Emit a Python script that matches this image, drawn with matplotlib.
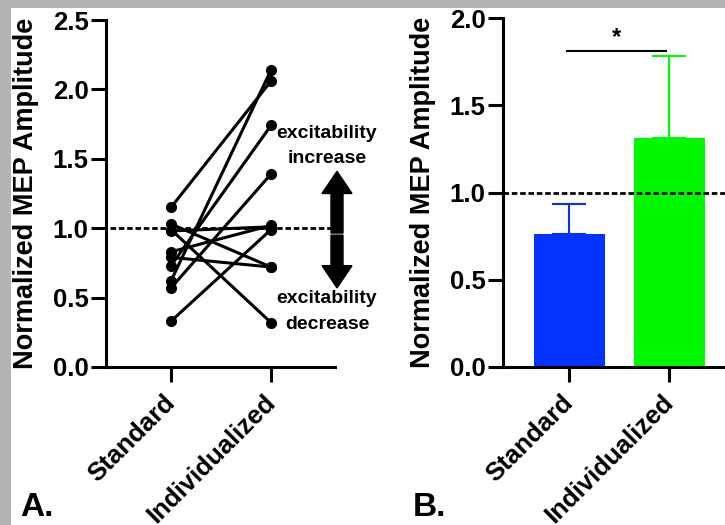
import numpy as np
import matplotlib.pyplot as plt
import matplotlib.transforms as mtransforms
from matplotlib.patches import Rectangle, FancyArrow

plt.rcParams['font.family'] = ['Liberation Sans', 'DejaVu Sans']
plt.rcParams['font.weight'] = 'bold'

groups = ["Standard", "Individualized"]

# paired MEP amplitudes, one entry per subject
standard_vals = [1.15, 1.03, 0.99, 0.98, 0.83, 0.79, 0.73, 0.62, 0.57, 0.33]
indiv_vals = [2.06, 0.72, 0.32, 1.01, 1.02, 0.72, 1.74, 2.14, 1.39, 0.99]

# group means and upper error
bar_means = [0.76, 1.31]
bar_err = [0.175, 0.47]
bar_colors = ["#0433ff", "#00f900"]

ylabel = "Normalized MEP Amplitude"

W, H = 725, 525
fig = plt.figure(figsize=(W / 100, H / 100), dpi=100, facecolor="#b4b4b4")
bg = Rectangle((11 / W, 0), 1, 1 - 8 / H, transform=fig.transFigure,
               facecolor="white", edgecolor="none", zorder=-10)
fig.add_artist(bg)


def style_axes(ax):
    for s in ["top", "right"]:
        ax.spines[s].set_visible(False)
    for s in ["left", "bottom"]:
        ax.spines[s].set_linewidth(2.2)
    ax.tick_params(axis="y", length=11, width=2.2, labelsize=18.5, pad=1.5)
    ax.tick_params(axis="x", length=11, width=2.2, labelsize=18.5, pad=3)
    ax.set_xticks([0, 1])
    ax.set_xticklabels(groups, rotation=45, ha="right", rotation_mode="anchor",
                       fontweight="bold")
    # nudge the slanted labels down and left
    shift = mtransforms.ScaledTranslation(-8 / 100, -4 / 100, fig.dpi_scale_trans)
    for lab in ax.get_xticklabels():
        lab.set_transform(lab.get_transform() + shift)
    for lab in ax.get_yticklabels():
        lab.set_fontweight("bold")
    ax.set_ylabel(ylabel, fontsize=19.5, fontweight="bold", labelpad=10)
    ax.patch.set_alpha(0)


# panel A: paired lines
axA = fig.add_axes([106 / W, 1 - 367 / H, 229 / W, 347 / H])
for s, i in zip(standard_vals, indiv_vals):
    axA.plot([0, 1], [s, i], "-o", color="black", lw=2.2, ms=7, clip_on=False, zorder=3)
axA.plot([-0.61, 1.72], [1, 1], color="black", lw=2, ls=(0, (2, 1)), clip_on=False, zorder=2)
axA.set_xlim(-0.65, 1.64)
axA.set_ylim(0, 2.5)
axA.set_yticks(np.arange(0, 2.51, 0.5))
axA.yaxis.set_major_formatter(plt.FormatStrFormatter("%.1f"))
style_axes(axA)

axA.add_patch(FancyArrow(1.66, 0.965, 0, 0.445, width=0.12, head_width=0.3, head_length=0.16,
                         length_includes_head=True, color="black", clip_on=False, zorder=4))
axA.add_patch(FancyArrow(1.66, 0.95, 0, -0.38, width=0.12, head_width=0.3, head_length=0.16,
                         length_includes_head=True, color="black", clip_on=False, zorder=4))
axA.text(1.56, 1.59, "excitability\nincrease", ha="center", va="center", fontsize=14,
         fontweight="bold", linespacing=1.62)
axA.text(1.56, 0.40, "excitability\ndecrease", ha="center", va="center", fontsize=14,
         fontweight="bold", linespacing=1.62)

# panel B: group means with upper error bars
axB = fig.add_axes([503 / W, 1 - 367 / H, 226 / W, 349 / H])
x = np.arange(len(groups))
for xi, m, e, c in zip(x, bar_means, bar_err, bar_colors):
    axB.bar(xi, m, width=0.71, color=c, zorder=2)
    axB.errorbar(xi, m, yerr=[[0], [e]], color=c, lw=1.5, capsize=12.5, capthick=1.5, zorder=1)
axB.plot([-0.66, 1.6], [1, 1], color="black", lw=2, ls=(0, (2, 1)), clip_on=False, zorder=3)
axB.plot([-0.02, 0.97], [1.81, 1.81], color="black", lw=1.5)
axB.text(0.48, 1.82, "*", ha="center", va="bottom", fontsize=17, fontweight="bold")
axB.set_xlim(-0.66, 1.6)
axB.set_ylim(0, 2.0)
axB.set_yticks(np.arange(0, 2.01, 0.5))
axB.yaxis.set_major_formatter(plt.FormatStrFormatter("%.1f"))
style_axes(axB)

fig.text(20 / W, 1 - 508 / H, "A.", fontsize=24, fontweight="bold", va="center")
fig.text(413 / W, 1 - 508 / H, "B.", fontsize=24, fontweight="bold", va="center")

fig.savefig("out.png", dpi=100, facecolor=fig.get_facecolor())
